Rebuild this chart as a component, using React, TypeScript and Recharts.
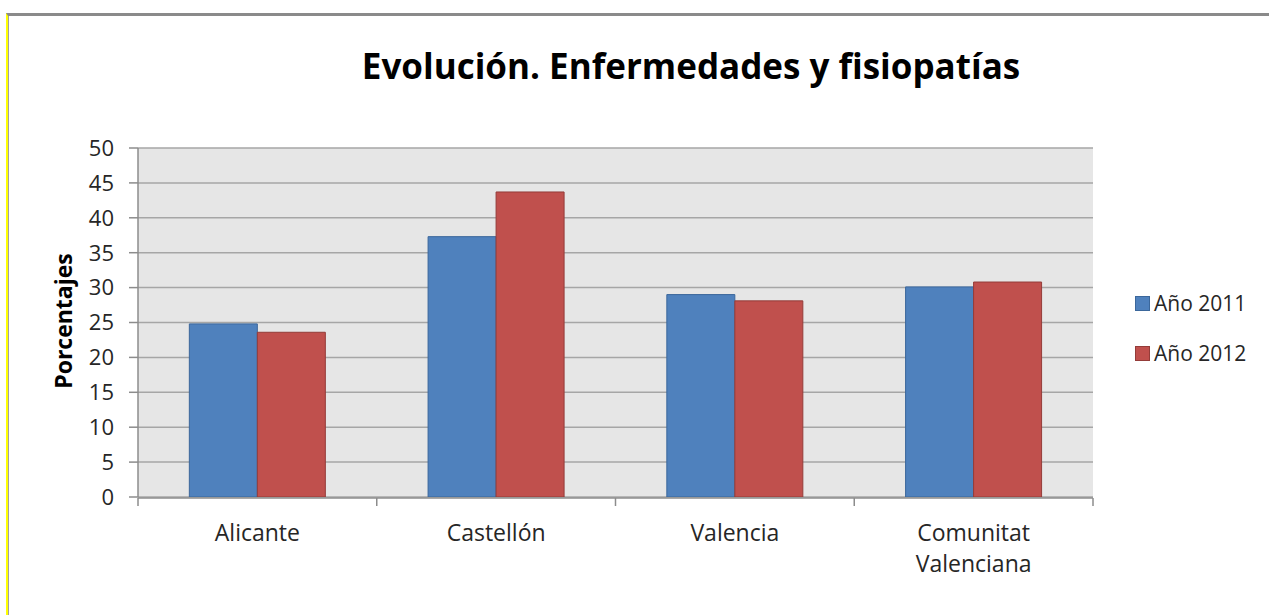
import React from 'react';
import { BarChart, Bar, XAxis, YAxis, CartesianGrid } from 'recharts';

const categories = ['Alicante', 'Castellón', 'Valencia', 'Comunitat Valenciana'];
const year2011 = [24.8, 37.3, 29.0, 30.1];
const year2012 = [23.6, 43.7, 28.1, 30.8];
const yTicks = [0, 5, 10, 15, 20, 25, 30, 35, 40, 45, 50];
const edgeTicks = [0, 1, 2, 3, 4];
const seriesNames = ['Año 2011', 'Año 2012'];
const seriesFill = ['#4f81bd', '#c0504d'];
const seriesStroke = ['#3b679b', '#943c39'];

const data = categories.map((c, i) => ({ name: c, a2011: year2011[i], a2012: year2012[i] }));

const FONT = '"Open Sans", sans-serif';
const TEXT = '#262626';
const XTICK_FS = 23;
const YTICK_FS = 22;

const CategoryTick = (props: any) => {
  const { x, y, payload } = props;
  const lines = String(payload.value).split(' ');
  return (
    <text
      x={x}
      y={y}
      textAnchor="middle"
      fontFamily={FONT}
      fontSize={XTICK_FS}
      fill={TEXT}
    >
      {lines.map((l, i) => (
        <tspan key={i} x={x} dy={i === 0 ? '0.71em' : 31}>
          {l}
        </tspan>
      ))}
    </text>
  );
};

export default function App() {
  return (
    <div style={{ position: 'absolute', left: 0, top: 0, width: 1269, height: 615, background: '#fff' }}>
      <div
        style={{
          position: 'absolute',
          left: 6,
          top: 13,
          width: 1263,
          height: 602,
          borderTop: '3px solid #8a8a8a',
          borderLeft: '2px solid #ffff00',
          boxSizing: 'border-box',
        }}
      >
        <div style={{ position: 'absolute', left: 0, top: 0, width: 1, height: '100%', background: '#a0a0a0' }} />
      </div>
      <div
        style={{
          position: 'absolute',
          left: 0,
          top: 42,
          width: 1382,
          textAlign: 'center',
          fontFamily: FONT,
          fontWeight: 700,
          fontSize: 35,
          color: '#000',
        }}
      >
        Evolución. Enfermedades y fisiopatías
      </div>
      <div style={{ position: 'absolute', left: 0, top: 0 }}>
        <BarChart
          width={1269}
          height={615}
          data={data}
          margin={{ top: 148, right: 176, bottom: 116, left: 137 }}
          barCategoryGap="21.5%"
          barGap={0}
        >
          <CartesianGrid
            vertical={false}
            horizontal={true}
            fill="#e6e6e6"
            stroke="#a6a6a6"
            strokeWidth={1.5}
            xAxisId="cat"
          />
          <XAxis
            xAxisId="edges"
            type="number"
            dataKey={() => 0}
            domain={[0, 4]}
            ticks={edgeTicks}
            allowDataOverflow
            height={1}
            axisLine={{ stroke: '#8c8c8c', strokeWidth: 1.5 }}
            tickLine={{ stroke: '#8c8c8c', strokeWidth: 1.5 }}
            tickSize={8}
            interval={0}
            tickFormatter={() => ''}
          />
          <XAxis
            xAxisId="cat"
            dataKey="name"
            height={1}
            axisLine={false}
            tickLine={false}
            tickSize={0}
            tickMargin={28}
            interval={0}
            tick={<CategoryTick />}
          />
          <YAxis
            domain={[0, 50]}
            ticks={yTicks}
            width={1}
            interval={0}
            allowDataOverflow
            axisLine={{ stroke: '#8c8c8c', strokeWidth: 1.5 }}
            tickLine={{ stroke: '#8c8c8c', strokeWidth: 1.5 }}
            tickSize={9}
            tickMargin={15}
            tick={{ fontFamily: FONT, fontSize: YTICK_FS, fill: TEXT }}
          />
          <Bar
            xAxisId="cat"
            dataKey="a2011"
            name={seriesNames[0]}
            fill={seriesFill[0]}
            stroke={seriesStroke[0]}
            strokeWidth={1}
            isAnimationActive={false}
          />
          <Bar
            xAxisId="cat"
            dataKey="a2012"
            name={seriesNames[1]}
            fill={seriesFill[1]}
            stroke={seriesStroke[1]}
            strokeWidth={1}
            isAnimationActive={false}
          />
        </BarChart>
      </div>
      <div
        style={{
          position: 'absolute',
          left: 63,
          top: 321,
          transform: 'translate(-50%, -50%) rotate(-90deg)',
          fontFamily: FONT,
          fontWeight: 700,
          fontSize: 23,
          color: '#000',
          whiteSpace: 'nowrap',
        }}
      >
        Porcentajes
      </div>
      <div style={{ position: 'absolute', left: 1135, top: 278, fontFamily: FONT, fontSize: 21, color: TEXT }}>
        {seriesNames.map((n, i) => (
          <div key={n} style={{ display: 'flex', alignItems: 'center', height: 50 }}>
            <span
              style={{
                display: 'inline-block',
                width: 15,
                height: 15,
                background: seriesFill[i],
                border: `1px solid ${seriesStroke[i]}`,
                boxSizing: 'border-box',
                marginRight: 4,
              }}
            />
            <span>{n}</span>
          </div>
        ))}
      </div>
    </div>
  );
}
